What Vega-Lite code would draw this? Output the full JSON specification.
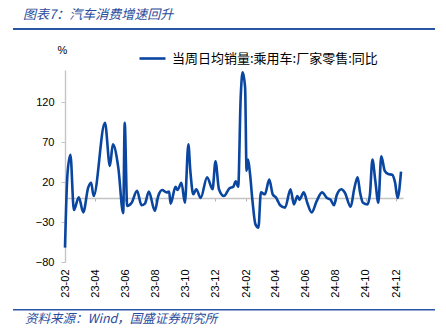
{
  "$schema": "https://vega.github.io/schema/vega-lite/v6.json",
  "padding": {"left": 13, "top": 9, "right": 0, "bottom": 0},
  "config": {"view": {"stroke": null}, "font": "Liberation Sans"},
  "align": "none",
  "spacing": 14,
  "resolve": {"scale": {"color": "independent"}, "legend": {"color": "independent"}},
  "vconcat": [
    {
      "width": 422,
      "height": 2,
      "view": {"fill": "#2856a5", "stroke": null},
      "title": {"text": "图表7：汽车消费增速回升", "anchor": "start", "font": "Noto Sans CJK SC", "fontSize": 13, "fontStyle": "italic", "fontWeight": "normal", "color": "#2b4c9b", "offset": 6, "dx": 10},
      "data": {"values": []},
      "mark": {"type": "point", "opacity": 0}
    },
    {
      "align": "none",
      "spacing": 11,
      "resolve": {"scale": {"color": "independent"}, "legend": {"color": "independent"}},
      "vconcat": [
        {
          "spacing": 21,
          "resolve": {"scale": {"color": "independent"}, "legend": {"color": "independent"}},
          "hconcat": [
            {
              "width": 1,
              "height": 1,
              "data": {"values": []},
              "mark": {"type": "point", "opacity": 0}
            },
            {
              "width": 338,
              "height": 192,
              "data": {"values": [
                {"date": "2023-01-30", "value": -62},
                {"date": "2023-02-04", "value": 30},
                {"date": "2023-02-10", "value": 54},
                {"date": "2023-02-17", "value": -15},
                {"date": "2023-02-27", "value": 1},
                {"date": "2023-03-08", "value": -18},
                {"date": "2023-03-18", "value": 13},
                {"date": "2023-03-24", "value": 19},
                {"date": "2023-03-29", "value": 2.5},
                {"date": "2023-04-21", "value": 94},
                {"date": "2023-05-01", "value": 40},
                {"date": "2023-05-07", "value": 67},
                {"date": "2023-05-18", "value": 38},
                {"date": "2023-05-28", "value": -19},
                {"date": "2023-05-31", "value": 94},
                {"date": "2023-06-05", "value": -10},
                {"date": "2023-06-14", "value": -6},
                {"date": "2023-06-25", "value": 9},
                {"date": "2023-07-04", "value": -9},
                {"date": "2023-07-11", "value": -7},
                {"date": "2023-07-19", "value": 8},
                {"date": "2023-07-31", "value": -16},
                {"date": "2023-08-07", "value": 2.5},
                {"date": "2023-08-15", "value": 10},
                {"date": "2023-08-24", "value": 7},
                {"date": "2023-08-29", "value": 8},
                {"date": "2023-09-01", "value": -7},
                {"date": "2023-09-11", "value": 14},
                {"date": "2023-09-15", "value": 10},
                {"date": "2023-09-23", "value": 19},
                {"date": "2023-09-30", "value": -6},
                {"date": "2023-10-07", "value": 67},
                {"date": "2023-10-11", "value": 34},
                {"date": "2023-10-17", "value": 4.6},
                {"date": "2023-10-23", "value": 11},
                {"date": "2023-11-01", "value": 0},
                {"date": "2023-11-14", "value": 26},
                {"date": "2023-11-25", "value": 11},
                {"date": "2023-12-01", "value": 46},
                {"date": "2023-12-08", "value": 11},
                {"date": "2023-12-18", "value": 2.5},
                {"date": "2023-12-29", "value": 12},
                {"date": "2024-01-06", "value": 14},
                {"date": "2024-01-11", "value": 21},
                {"date": "2024-01-16", "value": 14},
                {"date": "2024-01-21", "value": 125},
                {"date": "2024-01-25", "value": 157},
                {"date": "2024-01-30", "value": 138},
                {"date": "2024-02-02", "value": 34},
                {"date": "2024-02-05", "value": 48},
                {"date": "2024-02-09", "value": 30},
                {"date": "2024-02-14", "value": -4},
                {"date": "2024-02-20", "value": -33},
                {"date": "2024-02-26", "value": -37},
                {"date": "2024-03-02", "value": 7},
                {"date": "2024-03-10", "value": 4.6},
                {"date": "2024-03-19", "value": 23},
                {"date": "2024-03-26", "value": 4.6},
                {"date": "2024-04-02", "value": 0.4},
                {"date": "2024-04-10", "value": -9},
                {"date": "2024-04-20", "value": -12},
                {"date": "2024-05-01", "value": 11},
                {"date": "2024-05-08", "value": -8},
                {"date": "2024-05-15", "value": 2.5},
                {"date": "2024-05-19", "value": -2},
                {"date": "2024-05-28", "value": 7},
                {"date": "2024-06-04", "value": -6},
                {"date": "2024-06-13", "value": -18},
                {"date": "2024-06-23", "value": -4},
                {"date": "2024-07-04", "value": 7},
                {"date": "2024-07-14", "value": 0},
                {"date": "2024-07-21", "value": -2},
                {"date": "2024-07-28", "value": -9},
                {"date": "2024-08-03", "value": 4},
                {"date": "2024-08-12", "value": 11},
                {"date": "2024-08-19", "value": 7},
                {"date": "2024-08-31", "value": -11},
                {"date": "2024-09-07", "value": 11},
                {"date": "2024-09-14", "value": 26},
                {"date": "2024-09-19", "value": 7},
                {"date": "2024-09-25", "value": -6},
                {"date": "2024-10-04", "value": -8},
                {"date": "2024-10-09", "value": 4.6},
                {"date": "2024-10-14", "value": 48},
                {"date": "2024-10-20", "value": 21},
                {"date": "2024-10-26", "value": -6},
                {"date": "2024-11-01", "value": 52},
                {"date": "2024-11-08", "value": 34},
                {"date": "2024-11-15", "value": 30},
                {"date": "2024-11-23", "value": 29},
                {"date": "2024-11-29", "value": 19},
                {"date": "2024-12-04", "value": 0},
                {"date": "2024-12-11", "value": 33}
              ]},
              "mark": {"type": "line", "interpolate": "monotone", "strokeWidth": 2.6, "clip": false},
              "encoding": {
                "x": {
                  "field": "date", "type": "temporal",
                  "scale": {"domain": ["2023-01-30", "2024-12-15"]},
                  "axis": {
                    "title": null,
                    "orient": "bottom",
                    "offset": -64,
                    "format": "%y-%m",
                    "values": [
                      {"year": 2023, "month": 2, "date": 1},
                      {"year": 2023, "month": 4, "date": 1},
                      {"year": 2023, "month": 6, "date": 1},
                      {"year": 2023, "month": 8, "date": 1},
                      {"year": 2023, "month": 10, "date": 1},
                      {"year": 2023, "month": 12, "date": 1},
                      {"year": 2024, "month": 2, "date": 1},
                      {"year": 2024, "month": 4, "date": 1},
                      {"year": 2024, "month": 6, "date": 1},
                      {"year": 2024, "month": 8, "date": 1},
                      {"year": 2024, "month": 10, "date": 1},
                      {"year": 2024, "month": 12, "date": 1}
                    ],
                    "labelAngle": -90,
                    "labelFlush": false,
                    "labelOverlap": false,
                    "labelPadding": 68,
                    "labelFont": "Liberation Sans",
                    "labelFontSize": 11,
                    "labelColor": "#000000",
                    "domainColor": "#c4c4c4",
                    "domainWidth": 1.6,
                    "tickColor": "#b0b0b0",
                    "tickSize": 3,
                    "grid": false
                  }
                },
                "y": {
                  "field": "value", "type": "quantitative",
                  "scale": {"domain": [-80, 160], "nice": false, "zero": false},
                  "axis": {
                    "title": "%",
                    "titleAngle": 0,
                    "titleX": -3,
                    "titleY": -20,
                    "titleAlign": "center",
                    "titleBaseline": "middle",
                    "titleFont": "Liberation Sans",
                    "titleFontSize": 11,
                    "titleFontWeight": "normal",
                    "titleColor": "#000000",
                    "values": [-80, -30, 20, 70, 120],
                    "labelFont": "Liberation Sans",
                    "labelFontSize": 11,
                    "labelColor": "#000000",
                    "labelPadding": 7,
                    "domainColor": "#c4c4c4",
                    "domainWidth": 1.4,
                    "tickColor": "#c4c4c4",
                    "tickSize": 4,
                    "grid": false
                  }
                },
                "color": {
                  "datum": "当周日均销量:乘用车:厂家零售:同比",
                  "scale": {"range": ["#0a46a0"]},
                  "legend": {
                    "title": null,
                    "orient": "none",
                    "legendX": 73,
                    "legendY": -26,
                    "padding": 0,
                    "symbolType": "stroke",
                    "symbolSize": 676,
                    "symbolStrokeWidth": 2.6,
                    "labelFont": "Noto Sans CJK SC",
                    "labelFontSize": 13,
                    "labelColor": "#000000",
                    "labelOffset": 5,
                    "labelLimit": 400
                  }
                }
              }
            }
          ]
        },
        {
          "width": 422,
          "height": 1.5,
          "view": {"fill": "#2856a5", "stroke": null},
          "title": {"text": "资料来源：Wind，国盛证券研究所", "orient": "bottom", "anchor": "start", "font": "Noto Sans CJK SC", "fontSize": 12.5, "fontStyle": "italic", "fontWeight": "normal", "color": "#2b4c9b", "offset": 2, "dx": 12},
          "data": {"values": []},
          "mark": {"type": "point", "opacity": 0}
        }
      ]
    }
  ]
}
